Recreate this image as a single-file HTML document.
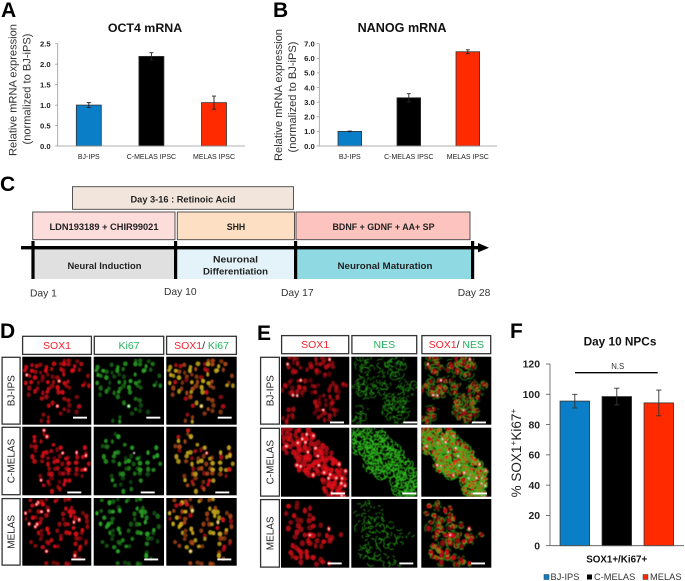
<!DOCTYPE html>
<html lang="en">
<head>
<meta charset="utf-8">
<title>Multi-panel figure</title>
<style>
html,body{margin:0;padding:0;background:#fff;width:685px;height:581px;overflow:hidden}
svg{display:block}
text{font-family:"Liberation Sans",Arial,sans-serif}
.panel{font-size:21px;font-weight:bold;fill:#000}
.ttl{font-weight:bold;fill:#111}
.yl{font-size:11.1px;fill:#333}
.stp{font-size:9.6px;font-weight:bold;fill:#222}
.day{font-size:10.3px;fill:#333}
.hd{font-size:10.5px}
.rl{font-size:10px;fill:#222}
</style>
</head>
<body>
<svg id="fig" xmlns="http://www.w3.org/2000/svg" width="685" height="581" viewBox="0 0 685 581">
<defs>
<filter id="soft" x="-5%" y="-5%" width="110%" height="110%"><feGaussianBlur stdDeviation="0.5"/></filter>
</defs>
<rect width="685" height="581" fill="#fff"/>

<text class="panel" x="1" y="17">A</text>
<text class="panel" x="273" y="17">B</text>
<text class="panel" x="0" y="191">C</text>
<text class="panel" x="0" y="338">D</text>
<text class="panel" x="257" y="340">E</text>
<text class="panel" x="510" y="338">F</text>

<text class="ttl" x="145" y="32" font-size="12.4" text-anchor="middle">OCT4 mRNA</text>
<text class="ttl" x="402" y="32" font-size="12.6" text-anchor="middle">NANOG mRNA</text>
<text class="yl" text-anchor="middle" transform="translate(16.5,90) rotate(-90)">Relative mRNA expression</text>
<text class="yl" text-anchor="middle" transform="translate(30.5,89) rotate(-90)">(normalized to BJ-iPS)</text>
<text class="yl" text-anchor="middle" transform="translate(282,95) rotate(-90)">Relative mRNA expression</text>
<text class="yl" text-anchor="middle" transform="translate(296,97) rotate(-90)">(normalized to BJ-iPS)</text>

<g id="chart-a"></g>
<g id="chart-b"></g>

<g>
<rect x="72.5" y="186.7" width="221" height="22.6" fill="#f2e6dc" stroke="#444" stroke-width="0.9"/>
<rect x="32.7" y="212" width="142.3" height="27.7" fill="#fddcdc" stroke="#444" stroke-width="0.9"/>
<rect x="177.3" y="212" width="117.2" height="27.7" fill="#fde0c4" stroke="#444" stroke-width="0.9"/>
<rect x="296" y="212" width="174" height="27.7" fill="#fdc3be" stroke="#444" stroke-width="0.9"/>
<rect x="33" y="248" width="142.5" height="31" fill="#e0e0e0"/>
<rect x="176" y="248" width="119.5" height="31" fill="#e4f3fa"/>
<rect x="296" y="248" width="176.5" height="31" fill="#8fd9e3"/>
<rect x="21" y="246" width="461" height="3.4" fill="#000"/>
<polygon points="478,243 489,247.7 478,252.4" fill="#000"/>
<rect x="31.4" y="241" width="3.2" height="38" fill="#000"/>
<rect x="174" y="241" width="3.2" height="38" fill="#000"/>
<rect x="294" y="241" width="3.2" height="38" fill="#000"/>
<rect x="471" y="241" width="3.2" height="38" fill="#000"/>
<text class="stp" x="183" y="202.3" text-anchor="middle" textLength="105" lengthAdjust="spacingAndGlyphs">Day 3-16 : Retinoic Acid</text>
<text class="stp" x="104" y="230" text-anchor="middle" textLength="109" lengthAdjust="spacingAndGlyphs">LDN193189 + CHIR99021</text>
<text class="stp" x="236" y="230" text-anchor="middle" textLength="18.5" lengthAdjust="spacingAndGlyphs">SHH</text>
<text class="stp" x="383.5" y="230" text-anchor="middle" textLength="102" lengthAdjust="spacingAndGlyphs">BDNF + GDNF + AA+ SP</text>
<text class="stp" x="104.5" y="269" text-anchor="middle" textLength="74" lengthAdjust="spacingAndGlyphs">Neural Induction</text>
<text class="stp" x="235.5" y="262.3" text-anchor="middle" textLength="45" lengthAdjust="spacingAndGlyphs">Neuronal</text>
<text class="stp" x="235.5" y="274.3" text-anchor="middle" textLength="65" lengthAdjust="spacingAndGlyphs">Differentiation</text>
<text class="stp" x="385" y="269" text-anchor="middle" textLength="95" lengthAdjust="spacingAndGlyphs">Neuronal Maturation</text>
<text class="day" x="30" y="296.7">Day 1</text>
<text class="day" x="164" y="295">Day 10</text>
<text class="day" x="281" y="296">Day 17</text>
<text class="day" x="457.7" y="296">Day 28</text>
</g>

<g id="micro-d"></g>
<g id="micro-e"></g>

<text class="ttl" x="620" y="345.7" font-size="11.8" text-anchor="middle">Day 10 NPCs</text>
<text font-size="13.5" fill="#222" text-anchor="middle" transform="translate(521,453) rotate(-90)">% SOX1<tspan font-size="8.5" dy="-5">+</tspan><tspan dy="5">Ki67</tspan><tspan font-size="8.5" dy="-5">+</tspan></text>
<g id="chart-f"></g>
<line x1="575" y1="372.7" x2="657.7" y2="372.7" stroke="#000" stroke-width="1.3"/>
<text x="617.7" y="369" font-size="7.8" fill="#333" text-anchor="middle">N.S</text>
<text class="ttl" x="616.7" y="562.3" font-size="9.8" text-anchor="middle">SOX1+/Ki67+</text>
<g>
<rect x="544" y="574.5" width="5" height="5" fill="#0a7fc8" stroke="#333" stroke-width="0.5"/>
<text x="550.5" y="580" font-size="9.3" fill="#333">BJ-IPS</text>
<rect x="587" y="574.5" width="5" height="5" fill="#000"/>
<text x="594" y="580" font-size="9.3" fill="#333">C-MELAS</text>
<rect x="643" y="574.5" width="5" height="5" fill="#ff2a00" stroke="#333" stroke-width="0.5"/>
<text x="650" y="580" font-size="9.3" fill="#333">MELAS</text>
</g>
</svg>

<script>
// ---- chart data ----
var barColors = ['#0a7fc8', '#000000', '#ff2a00'];

var categoriesA = ['BJ-IPS', 'C-MELAS IPSC', 'MELAS IPSC'];
var valuesA = [1.0, 2.19, 1.06];
var errorsA = [0.06, 0.09, 0.16];
var ticksA = [0, 0.5, 1.0, 1.5, 2.0, 2.5];
var tickLabelsA = ['0.0', '0.5', '1.0', '1.5', '2.0', '2.5'];

var categoriesB = ['BJ-IPS', 'C-MELAS IPSC', 'MELAS IPSC'];
var valuesB = [1.0, 3.3, 6.45];
var errorsB = [0.02, 0.28, 0.13];
var ticksB = [0, 1, 2, 3, 4, 5, 6, 7];
var tickLabelsB = ['0.0', '1.0', '2.0', '3.0', '4.0', '5.0', '6.0', '7.0'];

var categoriesF = ['BJ-IPS', 'C-MELAS', 'MELAS'];
var valuesF = [95.5, 98.5, 94.3];
var errorsF = [4.5, 5.5, 8.5];
var ticksF = [0, 20, 40, 60, 80, 100, 120];
var tickLabelsF = ['0', '20', '40', '60', '80', '100', '120'];

var NS = 'http://www.w3.org/2000/svg';
function mk(tag, attrs, parent) {
  var el = document.createElementNS(NS, tag);
  for (var k in attrs) el.setAttribute(k, attrs[k]);
  parent.appendChild(el);
  return el;
}

function drawBarChart(cfg) {
  var root = document.getElementById(cfg.id);
  var y = function (v) { return cfg.bottom - (v / cfg.max) * (cfg.bottom - cfg.top); };
  var band = cfg.band;
  var x = function (i) { return cfg.x0 + band * (i + 0.5); };

  cfg.values.forEach(function (v, i) {
    var bar = mk('rect', { x: x(i) - cfg.barW / 2, y: y(v), width: cfg.barW, height: cfg.bottom - y(v), fill: barColors[i], stroke: '#333', 'stroke-width': 0.8 }, root);
    
    
    var e = cfg.errors[i], top = y(v + e), low = y(v - e);
    var err = mk('path', { d: 'M' + x(i) + ' ' + top + 'V' + low + 'M' + (x(i) - cfg.cap) + ' ' + top + 'H' + (x(i) + cfg.cap) + 'M' + (x(i) - cfg.cap) + ' ' + low + 'H' + (x(i) + cfg.cap), stroke: cfg.errColor, 'stroke-width': 0.9, fill: 'none' }, root);
    
    
    if (cfg.showCats) {
      var c = mk('text', { x: x(i), y: cfg.catY, 'font-size': 7, fill: '#222', 'text-anchor': 'middle' }, root);
      c.textContent = cfg.categories[i];
      
      
    }
  });

  var yAxis = mk('line', { x1: cfg.axisX, x2: cfg.axisX, y1: cfg.top, y2: cfg.bottom, stroke: cfg.axisColor, 'stroke-width': 0.8 }, root);
  
  
  var xAxis = mk('line', { x1: cfg.axisX, x2: cfg.axisEnd, y1: cfg.bottom, y2: cfg.bottom, stroke: cfg.axisColor, 'stroke-width': 0.8 }, root);
  
  

  cfg.ticks.forEach(function (t, i) {
    var tk = mk('line', { x1: cfg.axisX - cfg.tickLen, x2: cfg.axisX, y1: y(t), y2: y(t), stroke: cfg.axisColor, 'stroke-width': 0.8 }, root);
    
    
    var lb = mk('text', { x: cfg.axisX - cfg.labelGap, y: y(t) + cfg.tickFont * 0.36, 'font-size': cfg.tickFont, 'font-weight': 'bold', fill: '#222', 'text-anchor': 'end' }, root);
    lb.textContent = cfg.tickLabels[i];
    
    
  });
}

drawBarChart({ id: 'chart-a', key: 'a', categories: categoriesA, values: valuesA, errors: errorsA, ticks: ticksA, tickLabels: tickLabelsA, max: 2.5, top: 43.7, bottom: 146, x0: 57.5, band: 62.6, barW: 25, cap: 2, errColor: '#222', axisX: 57.7, axisEnd: 245, axisColor: '#999', tickLen: 2.5, labelGap: 7, tickFont: 7.7, showCats: true, catY: 159 });
drawBarChart({ id: 'chart-b', key: 'b', categories: categoriesB, values: valuesB, errors: errorsB, ticks: ticksB, tickLabels: tickLabelsB, max: 7, top: 43.7, bottom: 146, x0: 320.3, band: 59, barW: 23.6, cap: 2, errColor: '#222', axisX: 319.3, axisEnd: 497, axisColor: '#999', tickLen: 2.5, labelGap: 4.5, tickFont: 7.7, showCats: true, catY: 159 });
drawBarChart({ id: 'chart-f', key: 'f', categories: categoriesF, values: valuesF, errors: errorsF, ticks: ticksF, tickLabels: tickLabelsF, max: 120, top: 364, bottom: 545.7, x0: 553.8, band: 42, barW: 29.5, cap: 2.6, errColor: '#333', axisX: 550, axisEnd: 684, axisColor: '#555', tickLen: 4, labelGap: 10, tickFont: 10.4, showCats: false });

// ---- microscopy textures (not chart data: stand-in imagery) ----
function rng(seed) {
  var s = seed >>> 0;
  return function () {
    s = (s * 1664525 + 1013904223) >>> 0;
    return s / 4294967296;
  };
}
function inMask(mask, fx, fy) {
  for (var i = 0; i < mask.length; i++) {
    var m = mask[i], dx = (fx - m[0]) / m[2], dy = (fy - m[1]) / m[3];
    if (dx * dx + dy * dy <= 1) return true;
  }
  return false;
}
function genCells(mask, w, h, step, seed, drop) {
  var r = rng(seed), cells = [];
  for (var i = 0; i < 8; i++) r();
  for (var gy = step / 2; gy < h; gy += step) {
    for (var gx = step / 2; gx < w; gx += step) {
      var px = gx + (r() - 0.5) * step * 0.8, py = gy + (r() - 0.5) * step * 0.8;
      var a = r(), b = r(), c = r(), d = r(), keep = r();
      if (keep > drop && inMask(mask, px / w, py / h)) cells.push({ x: px, y: py, a: a, b: b, c: c, d: d });
    }
  }
  return cells;
}
var clipCount = 0;
function imagePanel(root, name, x, y, w, h) {
  clipCount++;
  var cp = mk('clipPath', { id: 'clip' + clipCount }, document.querySelector('#fig defs'));
  mk('rect', { x: x, y: y, width: w, height: h }, cp);
  var bg = mk('rect', { x: x, y: y, width: w, height: h, fill: '#000' }, root);
  
  
  var outer = mk('g', { 'clip-path': 'url(#clip' + clipCount + ')' }, root);
  
  
  var g = mk('g', { filter: 'url(#soft)', transform: 'translate(' + x + ',' + y + ')' }, outer);
  
  
  return g;
}
function blob(g, c, rad, fill, op) {
  var e = mk('ellipse', { cx: c.x, cy: c.y, rx: rad * (0.8 + c.d * 0.25), ry: rad * (1.2 - c.d * 0.25), fill: fill, opacity: op }, g);
  
  
}
function ring(g, c, rad, width, color, gapScale) {
  var dash = (2 + c.b * 5) + ' ' + ((1 + c.c * 5) * gapScale);
  var e = mk('ellipse', { cx: c.x, cy: c.y, rx: rad, ry: rad * (0.65 + c.a * 0.6), fill: 'none', stroke: color, 'stroke-width': width, 'stroke-dasharray': dash, transform: 'rotate(' + (c.d * 360) + ' ' + c.x + ' ' + c.y + ')' }, g);
  
  
}
function scaleBar(root, x, y) {
  var b = mk('rect', { x: x, y: y, width: 14, height: 1.9, fill: '#fff' }, root);
  
  
}
function labelBox(root, name, x, y, w, h) {
  var b = mk('rect', { x: x + 0.6, y: y + 0.6, width: w - 1.2, height: h - 1.2, fill: '#fff', stroke: '#333', 'stroke-width': 1.3 }, root);
  
  
}
var RED = '#f5222d', GREEN = '#20b45c', DARK = '#222';
function header(root, name, x, y, w, h, parts, base) {
  labelBox(root, name + '-box', x, y, w, h);
  var t = mk('text', { x: x + w / 2, y: base, 'text-anchor': 'middle', 'class': 'hd' }, root);
  
  
  parts.forEach(function (p) {
    var s = mk('tspan', { fill: p[1] }, t);
    s.textContent = p[0];
  });
}
function rowLabel(root, name, x, y, w, h, txt) {
  labelBox(root, name + '-box', x, y, w, h);
  var t = mk('text', { 'class': 'rl', 'text-anchor': 'middle', transform: 'translate(' + (x + w / 2 + 3.5) + ',' + (y + h / 2) + ') rotate(-90)' }, root);
  t.textContent = txt;
  
  
}

// Panel D
var dRoot = document.getElementById('micro-d');
var dCols = [[22.3, 69], [93.7, 70.3], [166.3, 70.4]];
var dRows = [[356.7, 68, 416.7], [426.7, 68.6, 491.5], [498, 67.7, 558.5]];
var dBarX = [[50.7, 52.6, 51.4], [45, 47, 49], [49, 50.5, 51]];
var dMasks = [
  [[.2,.32,.22,.28],[.58,.14,.34,.13],[.52,.52,.3,.24],[.9,.36,.1,.1],[.65,.72,.2,.14],[.32,.92,.08,.1]],
  [[.28,.3,.17,.3],[.48,.42,.17,.18],[.75,.55,.24,.2],[.45,.78,.26,.2],[.2,.06,.06,.08],[.95,.36,.06,.08]],
  [[.2,.22,.18,.2],[.72,.36,.25,.22],[.32,.6,.25,.22],[.82,.72,.13,.18],[.5,.02,.45,.04],[.55,.98,.25,.04]]
];
var dNames = ['BJ-IPS', 'C-MELAS', 'MELAS'];
header(dRoot, 'header-d-sox1', 22, 335.7, 70, 19.3, [['SOX1', RED]], 349);
header(dRoot, 'header-d-ki67', 93.7, 335.7, 70.6, 19.3, [['Ki67', GREEN]], 349);
header(dRoot, 'header-d-sox1-ki67', 166, 335.7, 71, 19.3, [['SOX1', RED], ['/ ', DARK], ['Ki67', GREEN]], 349);
dRows.forEach(function (row, ri) {
  rowLabel(dRoot, 'row-label-d-' + dNames[ri].toLowerCase(), 1.5, row[0], 19.2, row[1], dNames[ri]);
  var cells = genCells(dMasks[ri], 69, row[1], 5.6, 101 + ri * 17, 0.12);
  dCols.forEach(function (col, ci) {
    var g = imagePanel(dRoot, 'image-d-r' + ri + '-c' + ci, col[0], row[0], col[1], row[1]);
    cells.forEach(function (c) {
      var rad = 1.8 + c.a * 0.7;
      var isGreen = c.b > 0.22;
      if (ci === 0) {
        blob(g, c, rad, '#e80e18', 0.45 + c.c * 0.55);
        if (c.c > 0.88) blob(g, c, 0.9, '#fff', 0.9);
      } else if (ci === 1) {
        if (isGreen) blob(g, c, rad, '#2aa826', 0.35 + c.c * 0.65);
        if (c.c > 0.97) blob(g, c, 1.1, '#fff', 0.9);
      } else {
        blob(g, c, rad, isGreen ? (c.c > 0.55 ? '#c9ab1c' : '#d5581a') : '#d5131c', 0.55 + c.c * 0.45);
        if (c.c > 0.96) blob(g, c, 0.9, '#fff', 0.9);
      }
    });
    scaleBar(dRoot, col[0] + dBarX[ri][ci], row[2]);
  });
});

// Panel E
var eRoot = document.getElementById('micro-e');
var eCols = [[281, 68.3], [351.3, 66], [421.3, 70]];
var eRows = [[356.7, 68, 421.5], [427.7, 69, 492.5], [499, 68.7, 562.5]];
var eBarX = [[49, 52, 50.6], [50, 51, 51.7], [46.7, 48, 49.7]];
var eStep = [4.6, 4.4, 6.2];
var eDrop = [0.08, 0, 0.2];
var eRingW = [0.6, 1.05, 0.7];
var eGap = [1.2, 0.5, 1.6];
var eRedOp = [0.3, 0.55, 0.45];
var eMasks = [
  [[.58,.14,.22,.16],[.3,.45,.3,.13],[.18,.12,.12,.15],[.66,.74,.2,.2],[.84,.48,.14,.13],[.12,.85,.1,.13]],
  [[.16,.18,.22,.22],[.48,.45,.28,.26],[.82,.8,.22,.27],[.72,.55,.17,.13],[.42,.12,.08,.1]],
  [[.26,.26,.22,.24],[.52,.52,.3,.22],[.28,.7,.2,.2],[.5,.92,.24,.07],[.84,.58,.11,.11]]
];
header(eRoot, 'header-e-sox1', 281, 335, 68.3, 19.3, [['SOX1', RED]], 348);
header(eRoot, 'header-e-nes', 351.3, 335, 66, 19.3, [['NES', GREEN]], 348);
header(eRoot, 'header-e-sox1-nes', 421.3, 335, 70, 19.3, [['SOX1', RED], ['/ ', DARK], ['NES', GREEN]], 348);
eRows.forEach(function (row, ri) {
  rowLabel(eRoot, 'row-label-e-' + dNames[ri].toLowerCase(), 260, row[0], 20, row[1], dNames[ri]);
  var cells = genCells(eMasks[ri], 68, row[1], eStep[ri], 211 + ri * 23, eDrop[ri]);
  eCols.forEach(function (col, ci) {
    var g = imagePanel(eRoot, 'image-e-r' + ri + '-c' + ci, col[0], row[0], col[1], row[1]);
    cells.forEach(function (c) {
      var rad = (ri === 0 ? 1.9 : 2.3) + c.a * 0.7;
      if (ci !== 1) blob(g, c, rad, '#e8101a', eRedOp[ri] + c.c * 0.45);
    });
    cells.forEach(function (c) {
      if (ci !== 0) ring(g, c, 2.6 + c.a * 1.8, eRingW[ri], '#2eb81f', eGap[ri]);
      var sp = ri === 1 ? 0.8 : 0.95;
      if (ci !== 1 && c.c > sp) blob(g, c, 0.9, '#fff', 0.95);
    });
    scaleBar(eRoot, col[0] + eBarX[ri][ci], row[2]);
  });
});
</script>
</body>
</html>
